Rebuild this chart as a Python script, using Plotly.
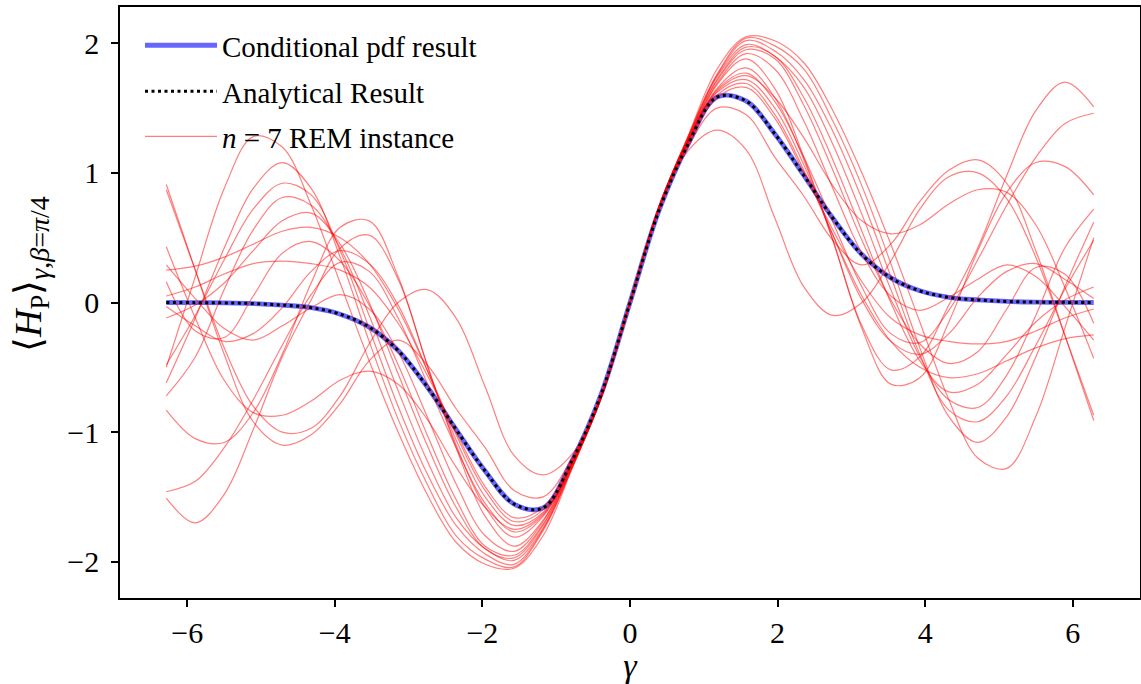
import plotly.graph_objects as go

GAMMA = [-6.283, -5.890, -5.498, -5.105, -4.712, -4.320, -3.927, -3.534, -3.142, -2.749, -2.356, -1.963,
         -1.571, -1.178, -0.785, -0.393, 0.0, 0.393, 0.785, 1.178, 1.571, 1.963, 2.356, 2.749, 3.142,
         3.534, 3.927, 4.320, 4.712, 5.105, 5.498, 5.890, 6.283]

COND_PDF = [0.0, -0.001, -0.003, -0.008, -0.02, -0.04, -0.09, -0.19, -0.37, -0.65, -0.98, -1.30, -1.555, -1.585, -1.22, -0.71, 0,
            0.71, 1.22, 1.585, 1.555, 1.30, 0.98, 0.65, 0.37, 0.19, 0.09, 0.04, 0.02, 0.008, 0.003, 0.001, 0.0]
ANALYTICAL = [0.0, -0.001, -0.003, -0.008, -0.02, -0.04, -0.09, -0.19, -0.37, -0.65, -0.98, -1.30, -1.555, -1.585, -1.22, -0.71, 0,
              0.71, 1.22, 1.585, 1.555, 1.30, 0.98, 0.65, 0.37, 0.19, 0.09, 0.04, 0.02, 0.008, 0.003, 0.001, 0.0]

REM_01 = [-0.50, 0.20, 0.88, 1.28, 1.20, 0.75, 0.15, -0.45, -1.00, -1.48, -1.85, -2.02, -2.05, -1.80, -1.28, -0.74, 0, 0.74, 1.28, 1.80, 2.05, 2.02, 1.85, 1.48, 1.00, 0.45, -0.15, -0.75, -1.20, -1.28, -0.88, -0.20, 0.50]
REM_02 = [-0.62, -0.12, 0.42, 0.88, 1.08, 0.88, 0.35, -0.30, -0.90, -1.40, -1.80, -1.98, -2.04, -1.76, -1.28, -0.74, 0, 0.74, 1.28, 1.76, 2.04, 1.98, 1.80, 1.40, 0.90, 0.30, -0.35, -0.88, -1.08, -0.88, -0.42, 0.12, 0.62]
REM_03 = [-0.48, -0.10, 0.33, 0.72, 0.92, 0.83, 0.40, -0.20, -0.80, -1.32, -1.72, -1.94, -2.02, -1.75, -1.27, -0.74, 0, 0.74, 1.27, 1.75, 2.02, 1.94, 1.72, 1.32, 0.80, 0.20, -0.40, -0.83, -0.92, -0.72, -0.33, 0.10, 0.48]
REM_04 = [-0.72, -0.42, 0.10, 0.56, 0.81, 0.75, 0.42, -0.10, -0.68, -1.22, -1.66, -1.90, -1.99, -1.74, -1.27, -0.74, 0, 0.74, 1.27, 1.74, 1.99, 1.90, 1.66, 1.22, 0.68, 0.10, -0.42, -0.75, -0.81, -0.56, -0.10, 0.42, 0.72]
REM_05 = [-0.12, -0.02, 0.15, 0.40, 0.63, 0.69, 0.45, 0.0, -0.55, -1.10, -1.58, -1.90, -1.97, -1.72, -1.26, -0.73, 0, 0.73, 1.26, 1.72, 1.97, 1.90, 1.58, 1.10, 0.55, 0.0, -0.45, -0.69, -0.63, -0.40, -0.15, 0.02, 0.12]
REM_06 = [0.16, -0.22, -0.27, 0.05, 0.38, 0.47, 0.32, -0.02, -0.48, -1.02, -1.52, -1.88, -1.95, -1.71, -1.26, -0.73, 0, 0.73, 1.26, 1.71, 1.95, 1.88, 1.52, 1.02, 0.48, 0.02, -0.32, -0.47, -0.38, -0.05, 0.27, 0.22, -0.16]
REM_07 = [0.29, 0.03, -0.20, -0.29, -0.18, -0.04, 0.06, -0.05, -0.38, -0.88, -1.40, -1.80, -1.92, -1.69, -1.25, -0.73, 0, 0.73, 1.25, 1.69, 1.92, 1.80, 1.40, 0.88, 0.38, 0.05, -0.06, 0.04, 0.18, 0.29, 0.20, -0.03, -0.29]
REM_08 = [-0.83, -1.05, -1.08, -0.85, -0.40, 0.15, 0.58, 0.63, 0.20, -0.48, -1.12, -1.65, -1.88, -1.68, -1.25, -0.73, 0, 0.73, 1.25, 1.68, 1.88, 1.65, 1.12, 0.48, -0.20, -0.63, -0.58, -0.15, 0.40, 0.85, 1.08, 1.05, 0.83]
REM_09 = [-1.51, -1.70, -1.48, -0.98, -0.42, 0.02, 0.42, 0.52, 0.18, -0.48, -1.10, -1.58, -1.81, -1.65, -1.24, -0.73, 0, 0.73, 1.24, 1.65, 1.81, 1.58, 1.10, 0.48, -0.18, -0.52, -0.42, -0.02, 0.42, 0.98, 1.48, 1.70, 1.51]
REM_10 = [-1.46, -1.38, -1.12, -0.75, -0.33, 0.06, 0.31, 0.24, -0.12, -0.62, -1.12, -1.55, -1.77, -1.64, -1.24, -0.73, 0, 0.73, 1.24, 1.64, 1.77, 1.55, 1.12, 0.62, 0.12, -0.24, -0.31, -0.06, 0.33, 0.75, 1.12, 1.38, 1.46]
REM_11 = [0.43, -0.12, -0.60, -0.85, -0.87, -0.76, -0.60, -0.53, -0.63, -0.90, -1.27, -1.58, -1.75, -1.63, -1.24, -0.73, 0, 0.73, 1.24, 1.63, 1.75, 1.58, 1.27, 0.90, 0.63, 0.53, 0.60, 0.76, 0.87, 0.85, 0.60, 0.12, -0.43]
REM_12 = [-0.03, -0.18, -0.30, -0.24, -0.04, 0.24, 0.40, 0.30, -0.02, -0.52, -1.06, -1.50, -1.72, -1.62, -1.23, -0.73, 0, 0.73, 1.23, 1.62, 1.72, 1.50, 1.06, 0.52, 0.02, -0.30, -0.40, -0.24, 0.04, 0.24, 0.30, 0.18, 0.03]
REM_13 = [0.25, 0.28, 0.35, 0.45, 0.55, 0.58, 0.50, 0.30, -0.05, -0.52, -1.02, -1.45, -1.69, -1.60, -1.22, -0.72, 0, 0.72, 1.22, 1.60, 1.69, 1.45, 1.02, 0.52, 0.05, -0.30, -0.50, -0.58, -0.55, -0.45, -0.35, -0.28, -0.25]
REM_14 = [0.05, 0.12, 0.22, 0.30, 0.32, 0.30, 0.25, 0.12, -0.16, -0.56, -1.00, -1.42, -1.66, -1.58, -1.21, -0.72, 0, 0.72, 1.21, 1.58, 1.66, 1.42, 1.00, 0.56, 0.16, -0.12, -0.25, -0.30, -0.32, -0.30, -0.22, -0.12, -0.05]
REM_15 = [0.91, 0.25, -0.40, -0.92, -1.10, -1.02, -0.78, -0.45, -0.29, -0.48, -0.82, -1.12, -1.45, -1.50, -1.20, -0.72, 0, 0.72, 1.20, 1.50, 1.45, 1.12, 0.82, 0.48, 0.29, 0.45, 0.78, 1.02, 1.10, 0.92, 0.40, -0.25, -0.91]
REM_16 = [0.87, 0.25, -0.35, -0.80, -1.00, -0.97, -0.72, -0.32, 0.0, 0.10, -0.12, -0.65, -1.18, -1.33, -1.17, -0.71, 0, 0.71, 1.17, 1.33, 1.18, 0.65, 0.12, -0.10, 0.0, 0.32, 0.72, 0.97, 1.00, 0.80, 0.35, -0.25, -0.87]

REM_INSTANCES = [REM_01, REM_02, REM_03, REM_04, REM_05, REM_06, REM_07, REM_08,
                 REM_09, REM_10, REM_11, REM_12, REM_13, REM_14, REM_15, REM_16]

X_TICKS = [-6, -4, -2, 0, 2, 4, 6]
Y_TICKS = [-2, -1, 0, 1, 2]

FONT = "Liberation Serif"

fig = go.Figure()

fig.add_trace(go.Scatter(
    x=GAMMA, y=COND_PDF, mode="lines", name="Conditional pdf result",
    line=dict(color="rgba(0,0,255,0.6)", width=4.8, shape="spline", smoothing=1.0),
    showlegend=True, legend="legend",
))

for i, vals in enumerate(REM_INSTANCES):
    fig.add_trace(go.Scatter(
        x=GAMMA, y=vals, mode="lines", name="<i>n</i> = 7 REM instance",
        line=dict(color="rgba(255,0,0,0.5)", width=1.2, shape="spline", smoothing=1.0),
        showlegend=(i == 0), legend="legend3",
    ))

fig.add_trace(go.Scatter(
    x=GAMMA, y=ANALYTICAL, mode="lines", name="Analytical Result",
    line=dict(color="black", width=3, dash="3px,3.5px", shape="spline", smoothing=1.0),
    showlegend=True, legend="legend2",
))

leg_common = dict(
    x=(140 - 120) / 1020, xanchor="left", yanchor="middle",
    bgcolor="rgba(0,0,0,0)", borderwidth=0,
    font=dict(family=FONT, size=29, color="black"),
    itemwidth=72, visible=True,
)

fig.update_layout(
    width=1141, height=684,
    margin=dict(l=120, r=1, t=7, b=86, autoexpand=False),
    paper_bgcolor="white", plot_bgcolor="white",
    showlegend=True,
    font=dict(family=FONT, size=30, color="black"),
    legend=dict(y=0.935, **leg_common),
    legend2=dict(y=0.857, **leg_common),
    legend3=dict(y=0.781, **leg_common),
    xaxis=dict(
        range=[-6.91, 6.91], tickvals=X_TICKS, ticks="outside", ticklen=7, tickwidth=1.5,
        tickcolor="black", showline=True, linecolor="black", linewidth=1.5, mirror=True,
        showgrid=False, zeroline=False, tickfont=dict(family=FONT, size=30), automargin=False,
        title=dict(text="<i>γ</i>", font=dict(family=FONT, size=34), standoff=0),
    ),
    yaxis=dict(
        range=[-2.28, 2.28], tickvals=Y_TICKS, ticks="outside", ticklen=7, tickwidth=1.5,
        tickcolor="black", showline=True, linecolor="black", linewidth=1.5, mirror=True,
        showgrid=False, zeroline=False, tickfont=dict(family=FONT, size=30), automargin=False,
        ticklabelstandoff=6,
    ),
    annotations=[dict(
        text="⟨<i>H</i><sub>P</sub>⟩<sub><span style=\"font-size:28px\"><i>γ</i>,<i>β</i>=<i>π</i>/4</span></sub>",
        xref="paper", yref="paper", x=(31 - 120) / 1020, y=(598 - 274) / 591,
        xanchor="center", yanchor="middle", textangle=-90, showarrow=False,
        font=dict(family=FONT, size=38, color="black"),
    )],
)

fig.write_html(
    "out.html",
    config={"responsive": False, "displayModeBar": False},
    post_script="document.body.style.margin='0px';document.body.style.overflow='hidden';",
)
